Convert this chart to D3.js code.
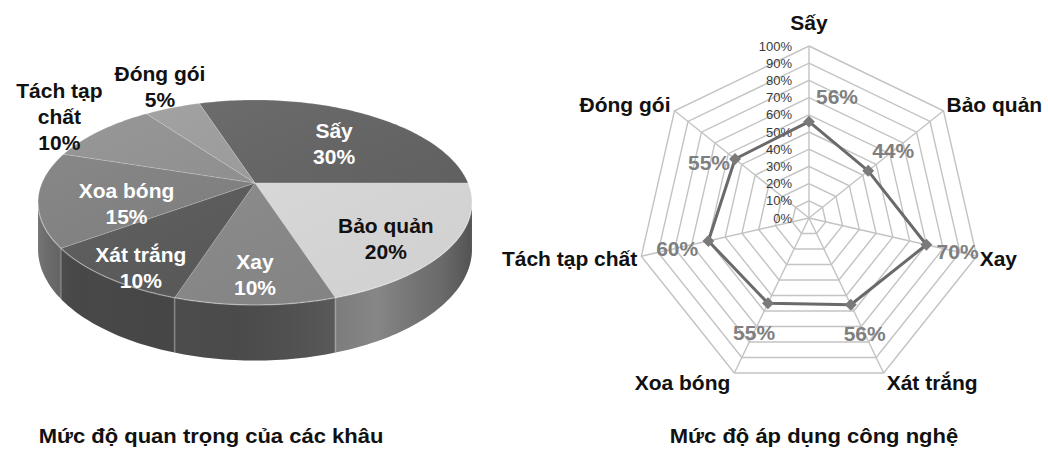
<!DOCTYPE html>
<html>
<head>
<meta charset="utf-8">
<script src="https://cdn.jsdelivr.net/npm/d3@7"></script>
<style>
  body { margin: 0; background: #fff; }
  svg { display: block; }
  text { font-family: "Liberation Sans", Arial, sans-serif; }
</style>
</head>
<body>
<svg id="chart" width="1048" height="450"></svg>
<script>
// data
const pieLabels = ["Sấy", "Bảo quản", "Xay", "Xát trắng", "Xoa bóng", "Tách tạp chất", "Đóng gói"];
const pieValues = [30, 20, 10, 10, 15, 10, 5];
const radarAxes = ["Sấy", "Bảo quản", "Xay", "Xát trắng", "Xoa bóng", "Tách tạp chất", "Đóng gói"];
const radarValues = [56, 44, 70, 56, 55, 60, 55];
const radarTicks = [0, 10, 20, 30, 40, 50, 60, 70, 80, 90, 100];
const chartTitles = ["Mức độ quan trọng của các khâu", "Mức độ áp dụng công nghệ"];

// styles
const pieColors = ["#626262", "#dedede", "#8a8a8a", "#585858", "#7f7f7f", "#8f8f8f", "#9c9c9c"];
const pieSideColors = ["#505050", "#767676", "#4f4f4f", "#484848", "#616161", "#6a6a6a", "#707070"];

const svg = d3.select("#chart");
const defs = svg.append("defs");

// ---------- 3D pie ----------
const P = { cx: 255, cy: 183, s: 213, t: 98.8, k: 0.19, depth: 45 };

// perspective projection of a point on the pie disc
function proj(theta, f = 1, h = 0) {
  const u = f * Math.sin(theta), v = f * Math.cos(theta);
  const den = 1 + P.k * v;
  return [P.cx + P.s * u / den, P.cy - P.t * v / den + h * P.depth / den];
}
function arcPts(a0, a1, h) {
  const n = Math.max(2, Math.ceil(Math.abs(a1 - a0) / 0.02));
  return d3.range(n + 1).map(i => proj(a0 + (a1 - a0) * i / n, 1, h));
}

const start = -18 * Math.PI / 180;
const arcs = d3.pie().sort(null).startAngle(start).endAngle(start + 2 * Math.PI)(pieValues);
const line = d3.line();

const gPie = svg.append("g");
const visLo = Math.PI / 2 + Math.asin(P.k), visHi = 3 * Math.PI / 2 - Math.asin(P.k);

// side walls
arcs.forEach((a, i) => {
  const lo = Math.max(a.startAngle, visLo), hi = Math.min(a.endAngle, visHi);
  if (hi <= lo) return;
  const pts = arcPts(lo, hi, 0).concat(arcPts(hi, lo, 1));
  gPie.append("path").attr("d", line(pts) + "Z").attr("fill", pieSideColors[i]);
});

// shading over the side band
const sideGrad = defs.append("linearGradient").attr("id", "sideShade")
  .attr("gradientUnits", "userSpaceOnUse").attr("x1", 38).attr("x2", 472).attr("y1", 0).attr("y2", 0);
[[0, "#fff", 0.12], [0.12, "#000", 0.0], [0.45, "#000", 0.06], [0.78, "#fff", 0.12], [0.93, "#000", 0.1], [1, "#000", 0.3]]
  .forEach(s => sideGrad.append("stop").attr("offset", s[0]).attr("stop-color", s[1]).attr("stop-opacity", s[2]));
gPie.append("path")
  .attr("d", line(arcPts(visLo, visHi, 0).concat(arcPts(visHi, visLo, 1))) + "Z")
  .attr("fill", "url(#sideShade)");

// vertical edges on the side
arcs.forEach(a => {
  if (a.startAngle > visLo && a.startAngle < visHi) {
    const p0 = proj(a.startAngle, 1, 0), p1 = proj(a.startAngle, 1, 1);
    gPie.append("line").attr("x1", p0[0]).attr("y1", p0[1]).attr("x2", p1[0]).attr("y2", p1[1])
      .attr("stroke", "#fff").attr("stroke-opacity", 0.18).attr("stroke-width", 2);
  }
});

// top faces
const apex = proj(0, 0, 0);
arcs.forEach((a, i) => {
  const pts = [apex].concat(arcPts(a.startAngle, a.endAngle, 0));
  gPie.append("path").attr("d", line(pts) + "Z")
    .attr("fill", pieColors[i])
    .attr("stroke", "#fff").attr("stroke-opacity", 0.22).attr("stroke-width", 0.8);
});
const topGrad = defs.append("linearGradient").attr("id", "topShade")
  .attr("x1", 0).attr("y1", 0).attr("x2", 1).attr("y2", 1);
topGrad.append("stop").attr("offset", 0).attr("stop-color", "#fff").attr("stop-opacity", 0.1);
topGrad.append("stop").attr("offset", 1).attr("stop-color", "#000").attr("stop-opacity", 0.06);
gPie.append("path").attr("d", line(arcPts(0, 2 * Math.PI, 0)) + "Z").attr("fill", "url(#topShade)");
// rim highlight on the front edge
gPie.append("path").attr("d", line(arcPts(visLo, visHi, 0)))
  .attr("fill", "none").attr("stroke", "#fff").attr("stroke-opacity", 0.25).attr("stroke-width", 1.5);

// pie labels
arcs.forEach((a, i) => {
  const mid = (a.startAngle + a.endAngle) / 2;
  const outside = pieValues[i] <= 10 && Math.cos(mid) > 0;
  // labels nearer the left rim sit a little further in
  const f = outside ? 1.3 : (Math.sin(mid) < -0.9 ? 0.6 : (Math.sin(mid) < -0.5 ? 0.8 : 0.7));
  let p = proj(mid, f, 0);
  if (!outside) p = [p[0], p[1] + 12];
  else if (Math.cos(mid) > 0.85) p = [p[0] + 8, p[1] - 2];
  const words = pieLabels[i].split(" ");
  const lines = (outside && words.length > 2)
    ? [words.slice(0, 2).join(" "), words.slice(2).join(" ")]
    : [pieLabels[i]];
  lines.push(pieValues[i] + "%");
  const dark = d3.hsl(pieColors[i]).l > 0.7 || outside;
  const lh = 26;
  const t = gPie.append("text")
    .attr("text-anchor", "middle")
    .attr("font-size", 21).attr("font-weight", "bold")
    .attr("fill", dark ? "#111" : "#fff");
  lines.forEach((s, j) => {
    t.append("tspan").attr("x", p[0])
      .attr("y", p[1] + (j - (lines.length - 1) / 2) * lh + 7)
      .text(s);
  });
});

// ---------- radar ----------
const R = { cx: 809, cy: 218, r: 172 };
const rScale = d3.scaleLinear().domain([0, 100]).range([0, R.r]);
const n = radarAxes.length;
const ang = i => i * 2 * Math.PI / n;
const pt = (i, val) => [R.cx + rScale(val) * Math.sin(ang(i)), R.cy - rScale(val) * Math.cos(ang(i))];

const gRad = svg.append("g");
radarTicks.filter(d => d > 0).forEach(tk => {
  gRad.append("path")
    .attr("d", line(d3.range(n).map(i => pt(i, tk))) + "Z")
    .attr("fill", "none").attr("stroke", "#c3c3c3").attr("stroke-width", 1.4);
});
d3.range(n).forEach(i => {
  const p = pt(i, 100);
  gRad.append("line").attr("x1", R.cx).attr("y1", R.cy).attr("x2", p[0]).attr("y2", p[1])
    .attr("stroke", "#c3c3c3").attr("stroke-width", 1.4);
});

// tick labels
gRad.selectAll(".tick").data(radarTicks).join("text")
  .attr("x", R.cx - 17).attr("y", d => R.cy - rScale(d))
  .attr("dy", "0.36em").attr("text-anchor", "end")
  .attr("font-size", 13).attr("fill", "#3a3a3a")
  .text(d => d + "%");

// series line
gRad.append("path")
  .attr("d", line(radarValues.map((v, i) => pt(i, v))) + "Z")
  .attr("fill", "none").attr("stroke", "#6a6a6a").attr("stroke-width", 3).attr("stroke-linejoin", "round");
gRad.selectAll(".mk").data(radarValues).join("path")
  .attr("transform", (v, i) => "translate(" + pt(i, v) + ")")
  .attr("d", d3.symbol(d3.symbolDiamond2, 90))
  .attr("fill", "#7a7a7a");

// data labels
radarValues.forEach((v, i) => {
  const a = ang(i), sx = Math.sin(a), cy = Math.cos(a);
  const p = pt(i, v);
  let x = p[0] + 32 * sx, y = p[1] - 32 * cy;
  if (i === 0) { x = p[0] + 28; y = p[1] - 25; }
  else if (sx < -0.1 && cy > 0.1) { x = p[0] - 26; y = p[1] + 3; }
  gRad.append("text").attr("x", x).attr("y", y).attr("dy", "0.36em")
    .attr("text-anchor", "middle").attr("font-size", 21).attr("font-weight", "bold")
    .attr("fill", "#7f7f7f").text(v + "%");
});

// axis labels
radarAxes.forEach((name, i) => {
  const a = ang(i), p = pt(i, 100);
  const sx = Math.sin(a), cy = Math.cos(a);
  const anchor = Math.abs(sx) < 0.1 ? "middle" : (sx > 0 ? "start" : "end");
  const x = p[0] + (sx > 0.1 ? 3 : sx < -0.1 ? -4 : 0);
  const y = i === 0 ? p[1] - 24 : p[1] - 10 * cy;
  gRad.append("text").attr("x", x).attr("y", y).attr("dy", "0.36em")
    .attr("text-anchor", anchor).attr("font-size", 21).attr("font-weight", "bold")
    .attr("fill", "#111").text(name);
});

// ---------- titles ----------
[[211, 443], [814, 443]].forEach((c, i) => {
  svg.append("text")
    .attr("transform", "translate(" + c[0] + "," + c[1] + ") scale(1,0.88)")
    .attr("text-anchor", "middle").attr("font-size", 22).attr("font-weight", "bold")
    .attr("fill", "#111").text(chartTitles[i]);
});
</script>
</body>
</html>
